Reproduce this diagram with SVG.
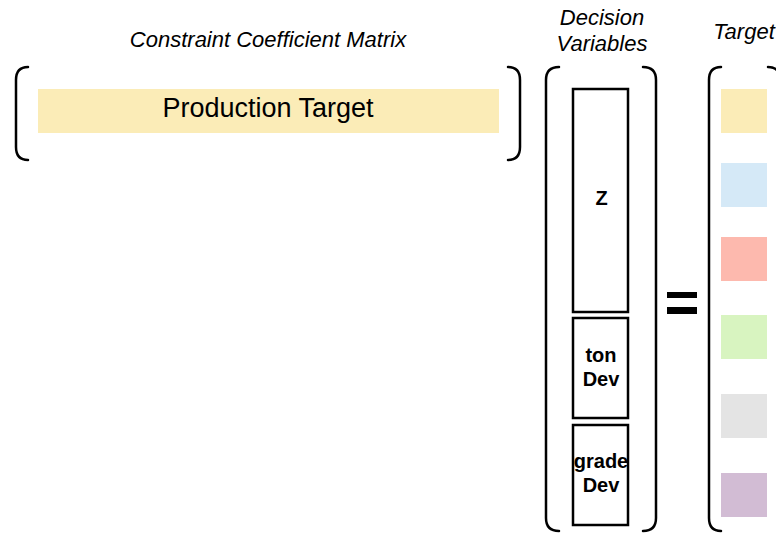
<svg xmlns="http://www.w3.org/2000/svg" width="776" height="534" viewBox="0 0 776 534">
<style>
.br{fill:none;stroke:#000;stroke-width:2.5;stroke-linecap:round}
.ttl{font-family:"Liberation Sans",Arial,sans-serif;font-style:italic;font-size:22px;fill:#000;text-anchor:middle}
.var{fill:#fff;stroke:#000;stroke-width:2.5}
.vt{font-family:"Liberation Sans",Arial,sans-serif;font-weight:bold;font-size:20px;fill:#000;text-anchor:middle}
</style>
<rect width="776" height="534" fill="#fff"/>
<text class="ttl" x="268" y="47">Constraint Coefficient Matrix</text>
<text class="ttl" x="602" y="25">Decision</text>
<text class="ttl" x="602" y="51">Variables</text>
<text class="ttl" x="744" y="39">Target</text>
<g id="matrix">
<path class="br" d="M28,67 Q16,67 16,80 L16,147 Q16,160 28,160"/>
<path class="br" d="M508,67 Q520,67 520,80 L520,147 Q520,160 508,160"/>
<g id="production-target">
<rect x="38" y="89" width="461" height="44" fill="#fbecb7"/>
<text x="268" y="117" font-family="'Liberation Sans',Arial,sans-serif" font-size="27" text-anchor="middle">Production Target</text>
</g>
</g>
<g id="decision-variables">
<path class="br" d="M559,67 Q546,67 546,80 L546,518 Q546,531 559,531"/>
<path class="br" d="M643,67 Q656,67 656,80 L656,518 Q656,531 643,531"/>
<g id="z"><rect class="var" x="573" y="89" width="55" height="223"/><text class="vt" x="601.5" y="205" font-size="19">Z</text></g>
<g id="ton-dev"><rect class="var" x="573" y="318" width="55" height="100"/><text class="vt" x="601" y="362">ton</text><text class="vt" x="601" y="386">Dev</text></g>
<g id="grade-dev"><rect class="var" x="573" y="425" width="55" height="100"/><text class="vt" x="601" y="468">grade</text><text class="vt" x="601" y="492">Dev</text></g>
</g>
<g id="equals">
<rect x="667" y="292" width="30" height="6" fill="#000"/>
<rect x="667" y="307" width="30" height="7" fill="#000"/>
</g>
<g id="target">
<path class="br" d="M721,67 Q709,67 709,80 L709,518 Q709,531 721,531"/>
<path class="br" d="M768,67 Q780,67 780,80 L780,518"/>
<rect x="721" y="89" width="46" height="44" fill="#fbecb7"/>
<rect x="721" y="163" width="46" height="44" fill="#d5e9f7"/>
<rect x="721" y="237" width="46" height="44" fill="#fdb9ae"/>
<rect x="721" y="315" width="46" height="44" fill="#d8f4c0"/>
<rect x="721" y="394" width="46" height="44" fill="#e4e4e4"/>
<rect x="721" y="473" width="46" height="44" fill="#d2bcd4"/>
</g>
</svg>
